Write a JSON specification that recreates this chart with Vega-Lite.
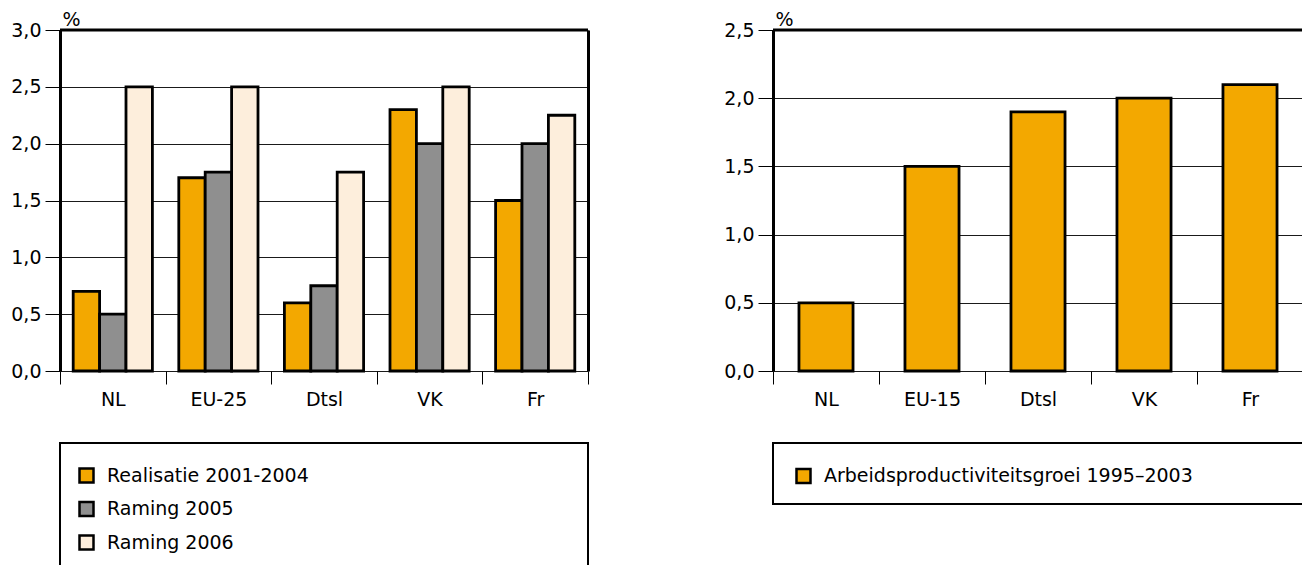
{
  "$schema": "https://vega.github.io/schema/vega-lite/v6.json",
  "background": "white",
  "padding": {"left": 10, "top": 10, "right": 0, "bottom": 0},
  "config": {
    "font": "DejaVu Sans",
    "view": {"stroke": null},
    "axis": {"labelFont": "DejaVu Sans", "labelFontSize": 19, "labelColor": "black", "titleFont": "DejaVu Sans", "titleFontSize": 19, "titleFontWeight": "normal", "titleColor": "black"},
    "legend": {"labelFont": "DejaVu Sans", "labelFontSize": 19, "labelColor": "black", "labelLimit": 0, "symbolType": "square", "symbolSize": 196, "symbolStrokeColor": "black", "symbolStrokeWidth": 2.5, "symbolOpacity": 1, "rowPadding": 8.5, "labelOffset": 11, "padding": 0}
  },
  "datasets": {
    "left": [
      {"country": "NL", "series": "Realisatie 2001-2004", "value": 0.7},
      {"country": "NL", "series": "Raming 2005", "value": 0.5},
      {"country": "NL", "series": "Raming 2006", "value": 2.5},
      {"country": "EU-25", "series": "Realisatie 2001-2004", "value": 1.7},
      {"country": "EU-25", "series": "Raming 2005", "value": 1.75},
      {"country": "EU-25", "series": "Raming 2006", "value": 2.5},
      {"country": "Dtsl", "series": "Realisatie 2001-2004", "value": 0.6},
      {"country": "Dtsl", "series": "Raming 2005", "value": 0.75},
      {"country": "Dtsl", "series": "Raming 2006", "value": 1.75},
      {"country": "VK", "series": "Realisatie 2001-2004", "value": 2.3},
      {"country": "VK", "series": "Raming 2005", "value": 2.0},
      {"country": "VK", "series": "Raming 2006", "value": 2.5},
      {"country": "Fr", "series": "Realisatie 2001-2004", "value": 1.5},
      {"country": "Fr", "series": "Raming 2005", "value": 2.0},
      {"country": "Fr", "series": "Raming 2006", "value": 2.25}
    ],
    "right": [
      {"country": "NL", "series": "Arbeidsproductiviteitsgroei 1995–2003", "value": 0.5},
      {"country": "EU-15", "series": "Arbeidsproductiviteitsgroei 1995–2003", "value": 1.5},
      {"country": "Dtsl", "series": "Arbeidsproductiviteitsgroei 1995–2003", "value": 1.9},
      {"country": "VK", "series": "Arbeidsproductiviteitsgroei 1995–2003", "value": 2.0},
      {"country": "Fr", "series": "Arbeidsproductiviteitsgroei 1995–2003", "value": 2.1}
    ]
  },
  "columns": 2,
  "concat": [
    {
      "width": 528,
      "height": 341,
      "data": {"name": "left"},
      "layer": [
        {
          "mark": {"type": "bar", "stroke": "black", "strokeWidth": 2.8},
          "encoding": {
            "x": {"field": "country", "type": "nominal", "sort": ["NL", "EU-25", "Dtsl", "VK", "Fr"],
              "scale": {"paddingInner": 0, "paddingOuter": 0},
              "axis": {"title": null, "labelAngle": 0, "tickBand": "extent", "domain": false, "ticks": true, "tickSize": 13, "tickColor": "black", "tickWidth": 1, "labelPadding": 6, "grid": false}},
            "xOffset": {"field": "series", "type": "nominal", "sort": ["Realisatie 2001-2004", "Raming 2005", "Raming 2006"],
              "scale": {"paddingInner": 0, "paddingOuter": 0.5}},
            "y": {"field": "value", "type": "quantitative", "scale": {"domain": [0, 3], "nice": false},
              "axis": {"title": "%", "values": [0, 0.5, 1, 1.5, 2, 2.5, 3], "labelExpr": "replace(format(datum.value,'.1f'),'.',',')",
                "domainColor": "black", "domainWidth": 3, "tickColor": "black", "tickSize": 15, "tickWidth": 1, "labelPadding": 4,
                "grid": true, "gridColor": "#1a1a1a", "gridWidth": 1,
                "titleAngle": 0, "titleAlign": "left", "titleBaseline": "alphabetic", "titleX": 2, "titleY": -5}},
            "fill": {"field": "series", "type": "nominal",
              "scale": {"domain": ["Realisatie 2001-2004", "Raming 2005", "Raming 2006"], "range": ["#F3A800", "#8F8F8F", "#FDEEDC"]},
              "legend": null}
          }
        },
        {
          "data": {"values": [{}]},
          "mark": {"type": "rule", "stroke": "black", "strokeWidth": 3},
          "encoding": {
            "y": {"datum": 3, "type": "quantitative",
              "axis": {"orient": "right", "labels": false, "ticks": false, "grid": false, "title": null, "domainColor": "black", "domainWidth": 3}}
          }
        }
      ],
      "resolve": {"axis": {"y": "independent"}}
    },
    {
      "width": 530,
      "height": 341,
      "data": {"name": "right"},
      "layer": [
        {
          "mark": {"type": "bar", "stroke": "black", "strokeWidth": 2.8, "fill": "#F3A800", "width": {"band": 0.51}},
          "encoding": {
            "x": {"field": "country", "type": "nominal", "sort": ["NL", "EU-15", "Dtsl", "VK", "Fr"],
              "scale": {"paddingInner": 0, "paddingOuter": 0},
              "axis": {"title": null, "labelAngle": 0, "tickBand": "extent", "domain": false, "ticks": true, "tickSize": 13, "tickColor": "black", "tickWidth": 1, "labelPadding": 6, "grid": false}},
            "y": {"field": "value", "type": "quantitative", "scale": {"domain": [0, 2.5], "nice": false},
              "axis": {"title": "%", "values": [0, 0.5, 1, 1.5, 2, 2.5], "labelExpr": "replace(format(datum.value,'.1f'),'.',',')",
                "domainColor": "black", "domainWidth": 3, "tickColor": "black", "tickSize": 15, "tickWidth": 1, "labelPadding": 4,
                "grid": true, "gridColor": "#1a1a1a", "gridWidth": 1,
                "titleAngle": 0, "titleAlign": "left", "titleBaseline": "alphabetic", "titleX": 2, "titleY": -5}}
          }
        },
        {
          "data": {"values": [{}]},
          "mark": {"type": "rule", "stroke": "black", "strokeWidth": 3},
          "encoding": {"y": {"datum": 2.5, "type": "quantitative"}}
        }
      ]
    },
    {
      "width": 528,
      "height": 125,
      "view": {"stroke": "black", "strokeWidth": 2},
      "data": {"name": "left"},
      "mark": {"type": "square", "opacity": 0},
      "encoding": {
        "fill": {"field": "series", "type": "nominal",
          "scale": {"domain": ["Realisatie 2001-2004", "Raming 2005", "Raming 2006"], "range": ["#F3A800", "#8F8F8F", "#FDEEDC"]},
          "legend": {"orient": "none", "legendX": 17, "legendY": 23, "title": null, "direction": "vertical"}}
      }
    },
    {
      "width": 530,
      "height": 61,
      "view": {"stroke": "black", "strokeWidth": 2},
      "data": {"name": "right"},
      "mark": {"type": "square", "opacity": 0},
      "encoding": {
        "fill": {"field": "series", "type": "nominal",
          "scale": {"domain": ["Arbeidsproductiviteitsgroei 1995–2003"], "range": ["#F3A800"]},
          "legend": {"orient": "none", "legendX": 21, "legendY": 23.5, "title": null, "direction": "vertical"}}
      }
    }
  ],
  "spacing": {"row": 72, "column": 185},
  "bounds": "flush",
  "resolve": {"scale": {"fill": "independent"}, "legend": {"fill": "independent"}}
}
